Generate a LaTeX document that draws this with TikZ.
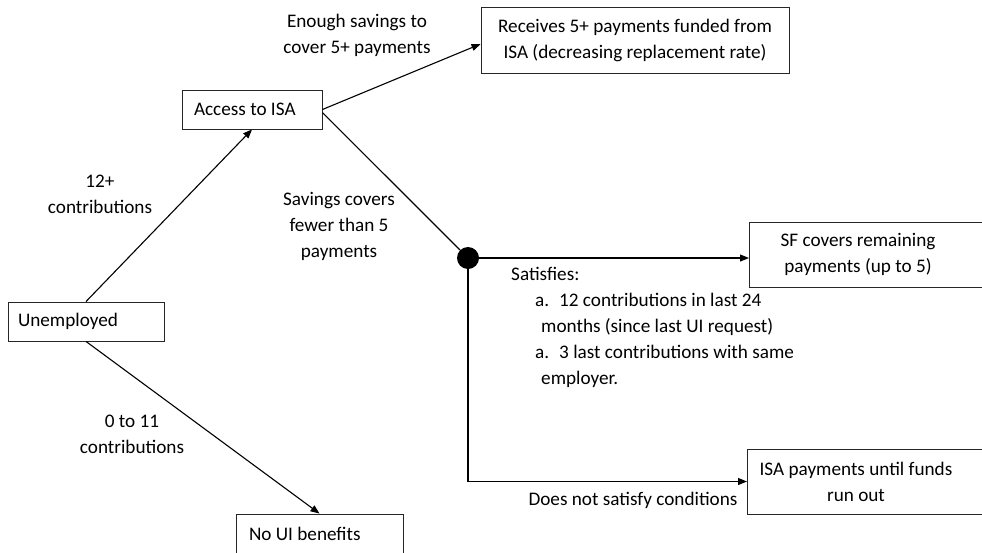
\documentclass[tikz,border=0pt]{standalone}
\usepackage{fontspec}
\setmainfont{Carlito}
\usetikzlibrary{arrows.meta}
\begin{document}
\begin{tikzpicture}[x=1pt,y=-1pt,font=\fontsize{19.2}{26}\selectfont,
  box/.style={draw=black!85,line width=0.9pt,inner ysep=0pt},
  conn/.style={line width=1.1pt},
  arr/.style={conn,-{Triangle[length=9pt,width=7pt]}},
  lbl/.style={align=center,inner sep=0pt}]
\useasboundingbox (0,0) rectangle (982,552);

% boxes
\node[box,text width=116pt,inner xsep=12pt,minimum height=39pt,align=flush left] (access) at (252,109.5) {Access to ISA};
\node[box,text width=136pt,inner xsep=10pt,minimum height=39pt,align=flush left] (unemp) at (86,321.5) {Unemployed};
\node[box,text width=141pt,inner xsep=13pt,minimum height=39pt,align=flush left] (noui) at (319.5,533.5) {No UI benefits};
\node[box,minimum width=308pt,minimum height=66pt,align=center] (recv) at (635,40) {Receives 5+ payments funded from\\ISA (decreasing replacement rate)};
\node[box,minimum width=245pt,minimum height=65pt,anchor=west] (sf) at (749,254.5) {};
\node[lbl] (sftext) at (858,254.5) {SF covers remaining\\payments (up to 5)};
\node[box,minimum width=245pt,minimum height=65pt,anchor=west] (isapay) at (747,481.5) {};
\node[lbl] (isatext) at (856,481.5) {ISA payments until funds\\run out};
\node[circle,fill=black,minimum size=22pt,inner sep=0pt] (dot) at (468,258) {};

% connectors
\draw[arr] (unemp.north) -- (access.south);
\draw[arr] (access.east) -- ([yshift=-4pt]recv.west);
\draw[conn] ([yshift=-3pt]access.east) -- (dot);
\draw[arr] (dot) -- (dot -| sf.west);
\draw[arr] (dot) |- (isapay.west);
\draw[arr] (unemp.south) -- (noui.north);

% labels
\node[lbl] (l1) at (357,35) {Enough savings to\\cover 5+ payments};
\node[lbl] (l2) at (100,194.5) {12+\\contributions};
\node[lbl] (l3) at (339,226) {Savings covers\\fewer than 5\\payments};
\node[lbl] (l4) at (132,434) {0 to 11\\contributions};
\node[lbl] (l5) at (633,500) {Does not satisfy conditions};
\node[align=flush left,inner sep=0pt,anchor=north west] (cond) at (511,267) {Satisfies:\\
\hspace*{24pt}\makebox[24pt][l]{a.}12 contributions in last 24\\
\hspace*{30pt}months (since last UI request)\\
\hspace*{24pt}\makebox[24pt][l]{a.}3 last contributions with same\\
\hspace*{30pt}employer.};
\end{tikzpicture}
\end{document}
